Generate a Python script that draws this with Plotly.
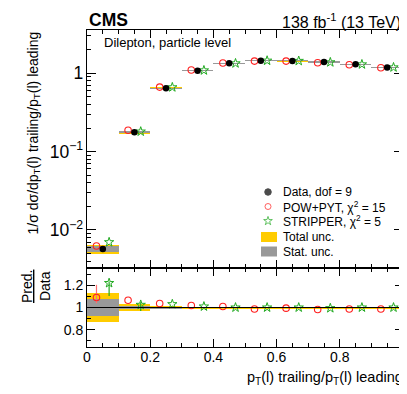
import plotly.graph_objects as go

# bins of pT(l) trailing / pT(l) leading
bin_lo = [0.0, 0.1, 0.2, 0.3, 0.4, 0.5, 0.6, 0.7, 0.8, 0.9]
bin_width = 0.1

# normalised cross section (data)
data_xsec = [0.0057, 0.176, 0.643, 1.08, 1.34, 1.45, 1.44, 1.39, 1.30, 1.19]
# relative uncertainties of data
total_unc = [0.128, 0.028, 0.018, 0.007, 0.006, 0.006, 0.006, 0.008, 0.008, 0.006]
stat_unc = [0.080, 0.015, 0.008, 0.003, 0.003, 0.003, 0.003, 0.004, 0.004, 0.003]

# prediction / data
pow_ratio = [1.091, 1.066, 1.036, 1.018, 1.009, 0.987, 0.994, 0.982, 0.987, 0.987]
pow_err_up = [0.114, 0, 0, 0, 0, 0, 0, 0, 0, 0]
pow_err_dn = [0.052, 0, 0, 0, 0, 0, 0, 0, 0, 0]
str_ratio = [1.221, 1.024, 1.030, 1.009, 1.000, 1.000, 1.000, 0.994, 1.000, 1.000]
str_err_up = [0.015, 0.024, 0, 0, 0, 0, 0, 0, 0, 0]
str_err_dn = [0.116, 0.055, 0, 0, 0, 0, 0, 0, 0, 0]

legend_labels = ["Data, dof = 9", "POW+PYT, \u03c7<sup>2</sup> = 15",
                 "STRIPPER, \u03c7<sup>2</sup> = 5", "Total unc.", "Stat. unc."]

FONT = "Liberation Sans, Arial, sans-serif"
YELLOW = "#ffcc00"
GREY = "#999999"
RED = "#ff2020"
GREEN = "#22aa22"

# plot area in pixels of the reference picture
L, R, T, B = 87, 403, 30, 347
W, H = 407, 394
PAGE = 8  # default body margin of the html page


def px_x(px):
    return (px - L) / (R - L)


def px_y(py):
    return (B - py) / (B - T)


centers = [lo + bin_width / 2 for lo in bin_lo]
pow_pred = [d * r for d, r in zip(data_xsec, pow_ratio)]
str_pred = [d * r for d, r in zip(data_xsec, str_ratio)]

fig = go.Figure()

# uncertainty bands, upper panel
fig.add_trace(go.Bar(
    x=centers, base=[d * (1 - u) for d, u in zip(data_xsec, total_unc)],
    y=[d * 2 * u for d, u in zip(data_xsec, total_unc)], width=bin_width,
    marker=dict(color=YELLOW, line_width=0), xaxis="x", yaxis="y", showlegend=False))
fig.add_trace(go.Bar(
    x=centers, base=[d * (1 - u) for d, u in zip(data_xsec, stat_unc)],
    y=[d * 2 * u for d, u in zip(data_xsec, stat_unc)], width=bin_width,
    marker=dict(color=GREY, line_width=0), xaxis="x", yaxis="y", showlegend=False))

# uncertainty bands, ratio panel
fig.add_trace(go.Bar(
    x=centers, base=[1 - u for u in total_unc], y=[2 * u for u in total_unc],
    width=bin_width, marker=dict(color=YELLOW, line_width=0),
    xaxis="x2", yaxis="y2", showlegend=False))
fig.add_trace(go.Bar(
    x=centers, base=[1 - u for u in stat_unc], y=[2 * u for u in stat_unc],
    width=bin_width, marker=dict(color=GREY, line_width=0),
    xaxis="x2", yaxis="y2", showlegend=False))

# points, upper panel
fig.add_trace(go.Scatter(
    x=[c - 0.02 for c in centers], y=pow_pred, mode="markers",
    marker=dict(symbol="circle-open", size=6.5, color=RED, line_width=1.1),
    xaxis="x", yaxis="y", showlegend=False))
fig.add_trace(go.Scatter(
    x=[c + 0.02 for c in centers], y=str_pred, mode="markers",
    marker=dict(symbol="star-open", size=7, color=GREEN, line_width=1),
    xaxis="x", yaxis="y", showlegend=False))
fig.add_trace(go.Scatter(
    x=centers, y=data_xsec, mode="markers",
    marker=dict(symbol="circle", size=6.5, color="black"),
    xaxis="x", yaxis="y", showlegend=False))

# points, ratio panel
fig.add_trace(go.Scatter(
    x=[c - 0.02 for c in centers], y=pow_ratio, mode="markers",
    error_y=dict(type="data", array=pow_err_up, arrayminus=pow_err_dn,
                 color="#ff7070", thickness=1.2, width=0),
    marker=dict(symbol="circle-open", size=6.5, color=RED, line_width=1.1),
    xaxis="x2", yaxis="y2", showlegend=False))
fig.add_trace(go.Scatter(
    x=[c + 0.02 for c in centers], y=str_ratio, mode="markers",
    error_y=dict(type="data", array=str_err_up, arrayminus=str_err_dn,
                 color=GREEN, thickness=1.2, width=0),
    marker=dict(symbol="star-open", size=7, color=GREEN, line_width=1),
    xaxis="x2", yaxis="y2", showlegend=False))

# hand-made legend (ROOT style, tight rows)
leg_rows = [192, 206.5, 221, 237, 251.5]
leg_mark_x = px_x(268)
leg_text_x = px_x(281)
fig.add_trace(go.Scatter(
    x=[leg_mark_x] * 3, y=[px_y(r) for r in leg_rows[:3]], mode="markers",
    marker=dict(symbol=["circle", "circle-open", "star-open"], size=[6.5, 6, 6.5],
                color=["black", RED, GREEN],
                line=dict(width=1, color=["black", RED, GREEN])),
    xaxis="x3", yaxis="y3", showlegend=False, hoverinfo="skip"))
for row, colour in zip(leg_rows[3:], [YELLOW, GREY]):
    fig.add_shape(type="rect", xref="paper", yref="paper",
                  x0=px_x(261), x1=px_x(277), y0=px_y(row + 5), y1=px_y(row - 5),
                  fillcolor=colour, line_width=0)
for row, label in zip(leg_rows, legend_labels):
    fig.add_annotation(x=leg_text_x, y=px_y(row), xref="paper", yref="paper",
                       text=label, showarrow=False, xanchor="left", yanchor="middle",
                       font=dict(size=12, family=FONT, color="black"))

# reference line in ratio
fig.add_shape(type="line", xref="x2 domain", yref="y2", x0=0, x1=1, y0=1, y1=1,
              line=dict(color="black", width=1), layer="above")

axis_common = dict(showline=True, linecolor="black", linewidth=1, mirror="allticks",
                   ticks="inside", tickcolor="black", showgrid=False, zeroline=False,
                   tickfont=dict(size=14, family=FONT, color="black"))
split = px_y(268)

fig.update_layout(
    width=W - PAGE, height=H - PAGE,
    margin=dict(l=L - PAGE, r=W - R, t=T - PAGE, b=H - B, autoexpand=False),
    paper_bgcolor="white", plot_bgcolor="rgba(0,0,0,0)",
    barmode="overlay", bargap=0,
    font=dict(family=FONT, color="black"),
    xaxis=dict(domain=[0, 1], anchor="y", range=[0, 1], dtick=0.2, ticklen=8,
               showticklabels=False,
               minor=dict(ticks="inside", ticklen=4, dtick=0.05, tickcolor="black"),
               **axis_common),
    yaxis=dict(domain=[split, 1], anchor="x", type="log", range=[-2.487, 0.553],
               dtick=1, exponentformat="power", ticklen=9,
               minor=dict(ticks="inside", ticklen=4, tickcolor="black"),
               **axis_common),
    xaxis2=dict(domain=[0, 1], anchor="y2", range=[0, 1], dtick=0.2, ticklen=8,
                ticklabelstandoff=-3,
                minor=dict(ticks="inside", ticklen=4, dtick=0.05, tickcolor="black"),
                **axis_common),
    yaxis2=dict(domain=[0, split], anchor="x2", range=[0.643, 1.357], dtick=0.2,
                tick0=0, ticklen=8,
                minor=dict(ticks="inside", ticklen=4, dtick=0.1, tickcolor="black"),
                **axis_common),
    xaxis3=dict(domain=[0, 1], anchor="y3", range=[0, 1], visible=False),
    yaxis3=dict(domain=[0, 1], anchor="x3", range=[0, 1], visible=False),
)

# texts
fig.add_annotation(x=0, y=px_y(20), xref="paper", yref="paper", text="<b>CMS</b>",
                   showarrow=False, xanchor="left", yanchor="middle",
                   font=dict(size=17.5, family=FONT))
fig.add_annotation(x=1, y=px_y(21), xref="paper", yref="paper",
                   text="138 fb<sup>-1</sup> (13 TeV)", showarrow=False,
                   xanchor="right", yanchor="middle", font=dict(size=16, family=FONT))
fig.add_annotation(x=px_x(102), y=px_y(43), xref="paper", yref="paper",
                   text="Dilepton, particle level", showarrow=False,
                   xanchor="left", yanchor="middle", font=dict(size=13, family=FONT))
fig.add_annotation(x=px_x(33), y=1, xref="paper", yref="paper", textangle=-90,
                   text="1/\u03c3 d\u03c3/dp<sub>T</sub>(l) trailing/p<sub>T</sub>(l) leading",
                   showarrow=False, xanchor="center", yanchor="top",
                   font=dict(size=14, family=FONT))
fig.add_annotation(x=px_x(36), y=px_y(287), xref="paper", yref="paper", textangle=-90,
                   text='<span style="text-decoration:underline">Pred.</span><br>Data',
                   showarrow=False, xanchor="center", yanchor="middle",
                   font=dict(size=14, family=FONT))
fig.add_annotation(x=px_x(405), y=px_y(378), xref="paper", yref="paper",
                   text="p<sub>T</sub>(l) trailing/p<sub>T</sub>(l) leading",
                   showarrow=False, xanchor="right", yanchor="middle",
                   font=dict(size=14.5, family=FONT))

fig.write_html("out.html")
